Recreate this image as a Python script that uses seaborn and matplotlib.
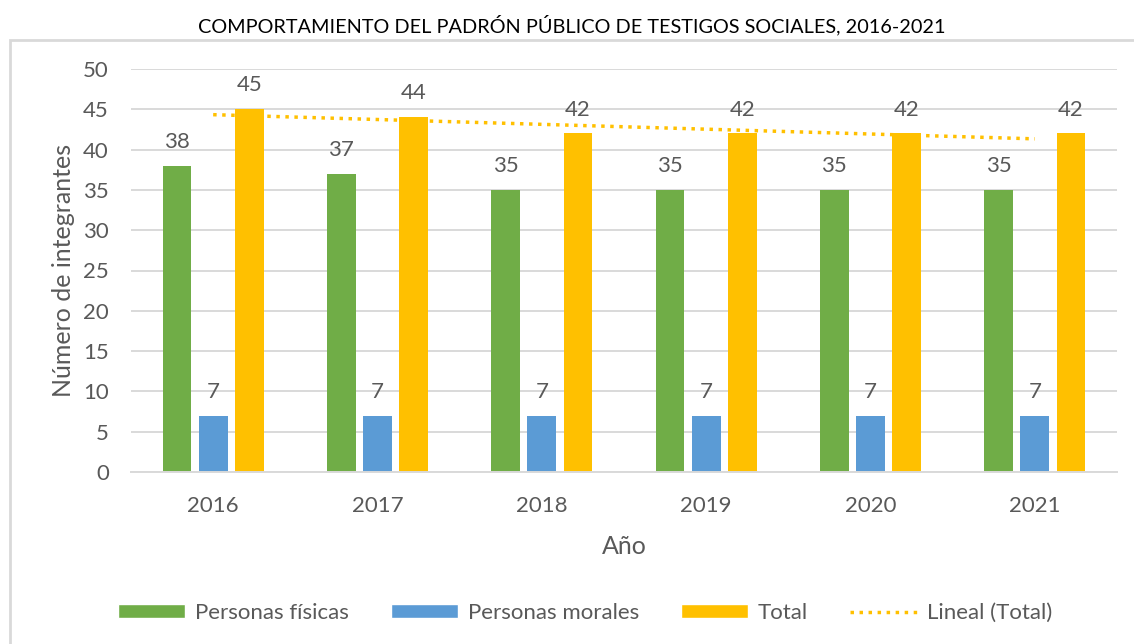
import pandas as pd
import seaborn as sns
import matplotlib.pyplot as plt
from matplotlib.patches import Rectangle, Patch
from matplotlib.lines import Line2D

years = ["2016", "2017", "2018", "2019", "2020", "2021"]
fisicas = [38, 37, 35, 35, 35, 35]
morales = [7, 7, 7, 7, 7, 7]
total = [45, 44, 42, 42, 42, 42]
series = ["Personas físicas", "Personas morales", "Total"]
colors = ["#70AD47", "#5B9BD5", "#FFC000"]

df = pd.DataFrame({
    "Año": years * 3,
    "valor": fisicas + morales + total,
    "serie": [series[0]] * 6 + [series[1]] * 6 + [series[2]] * 6,
})

sns.set_style("white")
plt.rcParams["font.family"] = ["Lato", "DejaVu Sans"]
gray = "#595959"

fig = plt.figure(figsize=(11.34, 6.44), dpi=100)
ax = fig.add_axes([131 / 1134, 1 - 472 / 644, (1117 - 131) / 1134, (472 - 69) / 644])

sns.barplot(data=df, x="Año", y="valor", hue="serie", palette=colors,
            width=0.66, gap=0.2, ax=ax, legend=False, saturation=1, linewidth=0)

for c in ax.containers:
    ax.bar_label(c, padding=10, fontsize=16, color=gray)

# tendencia lineal del total
trend = pd.DataFrame({"x": list(range(len(years))), "y": total})
sns.regplot(data=trend, x="x", y="y", ci=None, scatter=False, ax=ax,
            line_kws={"color": "#FFC000", "linestyle": (0, (1, 1.6)), "linewidth": 2.5})

ax.set_xlim(-0.5, 5.5)
ax.set_ylim(0, 50)
ax.set_yticks(range(0, 51, 5))
ax.set_xticks(range(len(years)))
ax.set_xticklabels(years)
ax.yaxis.grid(True, color="#D9D9D9", linewidth=1.4)
ax.set_axisbelow(True)
for s in ["top", "right", "left"]:
    ax.spines[s].set_visible(False)
ax.spines["bottom"].set_color("#D9D9D9")
ax.spines["bottom"].set_linewidth(1.4)
ax.tick_params(axis="both", length=0, labelsize=16, labelcolor=gray)
ax.tick_params(axis="x", pad=17)
ax.tick_params(axis="y", pad=16)
ax.set_xlabel("Año", fontsize=18, color=gray, labelpad=14)
ax.set_ylabel("Número de integrantes", fontsize=18, color=gray, labelpad=6)

fig.text(572 / 1134, 0.961, "COMPORTAMIENTO DEL PADRÓN PÚBLICO DE TESTIGOS SOCIALES, 2016-2021",
         ha="center", va="center", fontsize=14.3, color="black")

fig.patches.append(Rectangle((10 / 1134, -0.01), 1.1, 1 - 40 / 644 + 0.01,
                             transform=fig.transFigure, fill=False,
                             edgecolor="#D9D9D9", linewidth=2))

handles = [Patch(facecolor=c, label=s) for c, s in zip(colors, series)]
handles.append(Line2D([], [], color="#FFC000", linestyle=(0, (1, 1.6)),
                      linewidth=2.5, label="Lineal (Total)"))
fig.legend(handles=handles, loc="center", bbox_to_anchor=(585 / 1134, 1 - 613 / 644), ncol=4,
           frameon=False, fontsize=16, labelcolor=gray, handlelength=3.0,
           handleheight=0.55, columnspacing=1.9, handletextpad=0.45)

fig.savefig("out.png", dpi=100)
